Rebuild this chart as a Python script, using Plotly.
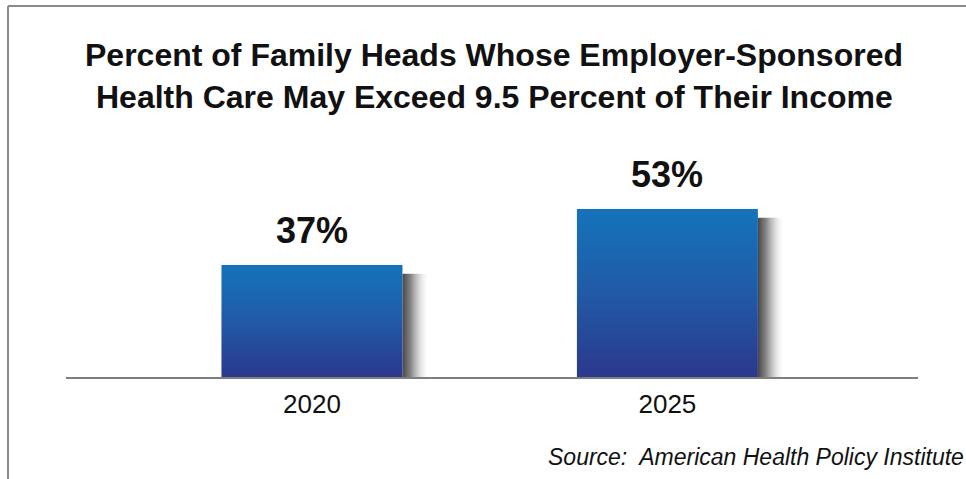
import plotly.graph_objects as go

# ---- data ----
categories = ["2020", "2025"]
values = [37, 53]
labels = ["37%", "53%"]
title_lines = [
    "Percent of Family Heads Whose Employer-Sponsored",
    "Health Care May Exceed 9.5 Percent of Their Income",
]
source_text = "Source:  American Health Policy Institute"

# ---- layout constants ----
W, H = 966, 479
ML, MR, MT, MB = 66, 48, 160, 102
Y_MIN, Y_MAX = 5, 67
X_MIN, X_MAX = -0.692, 1.705
HALF_W = 0.2546
SHADOW_W = 0.075
FONT = "Liberation Sans, Arial, sans-serif"

xs = list(range(len(categories)))
fig = go.Figure()

# shadows
for x, v in zip(xs, values):
    x0 = x + HALF_W
    x1 = x0 + SHADOW_W
    y1 = v - 2.5
    fig.add_trace(go.Scatter(
        x=[x0, x1, x1, x0, x0], y=[Y_MIN, Y_MIN, y1, y1, Y_MIN],
        mode="lines", line=dict(width=0), fill="toself",
        fillgradient=dict(type="horizontal",
                          colorscale=[[0, "rgba(70,70,70,1)"], [0.3, "rgba(110,110,110,0.85)"],
                                      [0.6, "rgba(170,170,170,0.55)"], [0.85, "rgba(225,225,225,0.25)"],
                                      [1, "rgba(255,255,255,0)"]]),
        hoverinfo="skip", showlegend=False))

# bars with vertical gradient
for x, v in zip(xs, values):
    x0, x1 = x - HALF_W, x + HALF_W
    fig.add_trace(go.Scatter(
        x=[x0, x1, x1, x0, x0], y=[Y_MIN, Y_MIN, v, v, Y_MIN],
        mode="lines", line=dict(width=0), fill="toself",
        fillgradient=dict(type="vertical",
                          colorscale=[[0, "#2b388d"], [0.5, "#215aa6"], [1, "#1473bb"]]),
        hoverinfo="skip", showlegend=False))

annotations = []
for x, v, t in zip(xs, values, labels):
    annotations.append(dict(x=x, y=v, xref="x", yref="y", text="<b>" + t + "</b>", showarrow=False,
                            yanchor="bottom", yshift=12,
                            font=dict(family=FONT, size=36, color="#111111")))

# title lines
title_ys = [55, 97]
for t, py in zip(title_lines, title_ys):
    annotations.append(dict(x=(494 - ML) / (W - ML - MR), y=(H - MB - py) / (H - MT - MB),
                            xref="paper", yref="paper", text="<b>" + t + "</b>",
                            showarrow=False, xanchor="center", yanchor="middle",
                            font=dict(family=FONT, size=32, color="#111111")))

annotations.append(dict(x=(966 - ML) / (W - ML - MR), y=(H - MB - 457) / (H - MT - MB),
                        xref="paper", yref="paper", text="<i>" + source_text + "</i>",
                        showarrow=False, xanchor="right", yanchor="middle",
                        font=dict(family=FONT, size=23, color="#111111")))

pw = W - ML - MR
ph = H - MT - MB
shapes = [
    dict(type="line", xref="paper", yref="paper",
         x0=(8 - ML) / pw, x1=(8 - ML) / pw, y0=(H - MB - 6) / ph, y1=(H - MB - 490) / ph,
         line=dict(color="#8a8a8a", width=2)),
    dict(type="line", xref="paper", yref="paper",
         x0=(8 - ML) / pw, x1=(980 - ML) / pw, y0=(H - MB - 6) / ph, y1=(H - MB - 6) / ph,
         line=dict(color="#8a8a8a", width=2)),
]

fig.update_layout(
    width=W, height=H,
    margin=dict(l=ML, r=MR, t=MT, b=MB, pad=0),
    paper_bgcolor="white", plot_bgcolor="white",
    showlegend=False, hovermode=False,
    annotations=annotations, shapes=shapes,
    xaxis=dict(range=[X_MIN, X_MAX], tickvals=xs, ticktext=categories,
               showgrid=False, zeroline=False, showline=True,
               linecolor="#7f7f7f", linewidth=2, ticks="", ticklabelstandoff=3,
               tickfont=dict(family=FONT, size=26, color="#111111"), fixedrange=True),
    yaxis=dict(range=[Y_MIN, Y_MAX], visible=False, showgrid=False,
               zeroline=False, fixedrange=True),
)

fig.write_html("out.html", config={"displayModeBar": False})
